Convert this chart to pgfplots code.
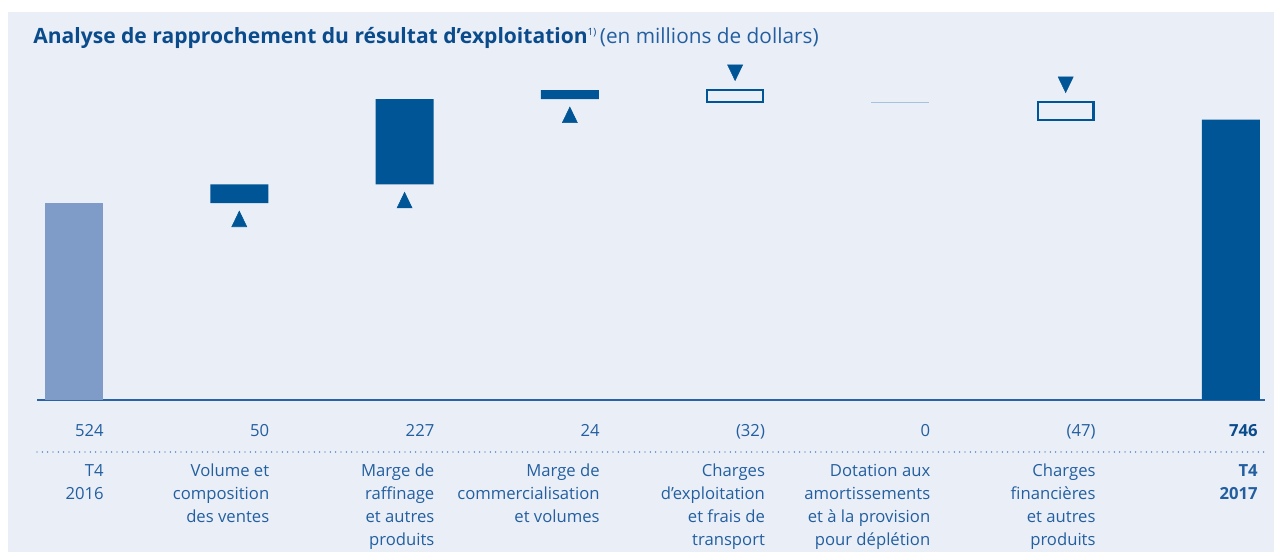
\documentclass[border=0pt]{standalone}
\usepackage{fontspec}
\setmainfont{Open Sans}
\usepackage{pgfplots}
\pgfplotsset{compat=1.18}
\definecolor{bg}{RGB}{234,239,247}
\definecolor{dark}{RGB}{0,85,150}
\definecolor{lightbar}{RGB}{127,156,200}
\definecolor{txt}{RGB}{35,95,160}
\definecolor{ttl}{RGB}{10,75,140}
\definecolor{zline}{RGB}{165,195,225}
\definecolor{base}{RGB}{40,100,165}
\pgfplotsset{wf/.style={scale only axis, width=921pt, height=253.6pt,
  xmin=-0.224, xmax=7.206, ymin=0, ymax=900, hide axis,
  at={(27.75pt,114pt)}, anchor=south west, clip=false}}
\newcommand\cat[3]{\foreach \t [count=\i] in {#3} {\node[anchor=base east, inner sep=0pt, text=txt, font=\fontsize{12.5}{14}\selectfont#2] at (#1, {477+23*(\i-1)}) {\t};}}
\begin{document}
\begin{tikzpicture}
\useasboundingbox (0,0) rectangle (955.5pt,414pt);
\fill[white] (0,0) rectangle (955.5pt,414pt);
\begin{scope}[x=0.75pt,y=-0.75pt,shift={(0,414pt)}]
\fill[bg] (8,12) rectangle (1274,552);
\node[anchor=base west, inner sep=0pt, text=ttl] at (33,44) {{\fontsize{15.8}{17}\selectfont\bfseries Analyse de rapprochement du résultat d’exploitation}{\fontsize{7.5}{8}\selectfont\raisebox{6pt}{1)}} {\color{txt}\fontsize{15.6}{17}\selectfont (en millions de dollars)}};
\draw[base, line width=1.3pt] (37,400) -- (1265,400);
\draw[base, line width=1.1pt, line cap=round, dash pattern=on 0pt off 4pt] (37,452) -- (1265,452);
% value labels
\foreach \x/\v in {104/524, 269.5/50, 434.6/227, 599.9/24, 765.2/(32), 930.5/0, 1095.8/(47)}
  {\node[anchor=base east, inner sep=0pt, text=txt, font=\fontsize{12.5}{14}\selectfont] at (\x,437) {\v};}
\node[anchor=base east, inner sep=0pt, text=ttl, font=\fontsize{12.5}{14}\selectfont\bfseries] at (1258,437) {746};
\cat{104}{}{T4,2016}
\cat{269.5}{}{Volume et,composition,des ventes}
\cat{434.6}{}{Marge de,raffinage,et autres,produits}
\cat{599.9}{}{Marge de,commercialisation,et volumes}
\cat{765.2}{}{Charges,d’exploitation,et frais de,transport}
\cat{930.5}{}{Dotation aux,amortissements,et à la provision,pour déplétion}
\cat{1095.8}{}{Charges,financières,et autres,produits}
\cat{1258}{\bfseries}{T4,2017}
\end{scope}
\begin{axis}[wf, ybar stacked, bar width=43.5pt]
\addplot[draw=none, fill=none] coordinates {(0,0) (1,524) (2,574) (3,801) (7,0)};
\addplot[draw=none, fill=lightbar] coordinates {(0,524) (1,0) (2,0) (3,0) (7,0)};
\addplot[draw=none, fill=dark] coordinates {(0,0) (1,50) (2,227) (3,24) (7,746)};
\end{axis}
\begin{axis}[wf, ybar stacked, bar width=41.8pt]
\addplot[draw=none, fill=none] coordinates {(4,793) (6,746)};
\addplot[draw=dark, line width=1.7pt, fill=none] coordinates {(4,32) (6,47)};
\end{axis}
\begin{axis}[wf]
\addplot[zline, line width=0.8pt] coordinates {(4.825,793) (5.175,793)};
\addplot[only marks, mark=triangle*, mark size=6.5pt, color=dark, mark options={yscale=1.2}] coordinates {(1,475) (2,525) (3,752)};
\addplot[only marks, mark=triangle*, mark size=6.5pt, color=dark, mark options={rotate=180, yscale=1.2}] coordinates {(4,878) (6,846)};
\end{axis}
\end{tikzpicture}
\end{document}
